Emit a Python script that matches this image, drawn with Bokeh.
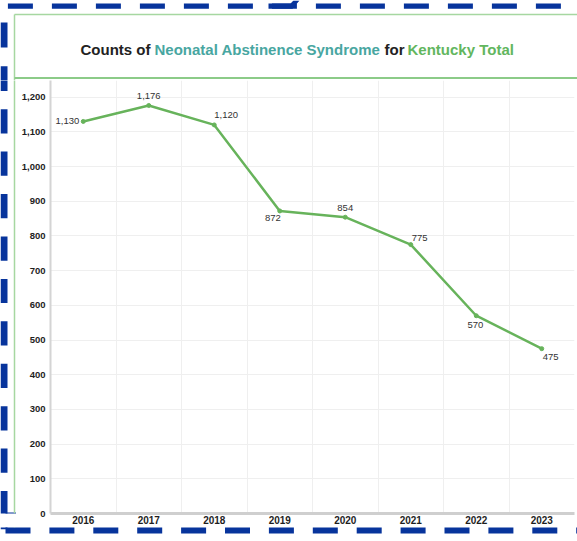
from bokeh.plotting import figure
from bokeh.layouts import column, row
from bokeh.models import Range1d, FixedTicker, NumeralTickFormatter, ColumnDataSource
from bokeh.embed import file_html
from bokeh.resources import INLINE
from bokeh.core.properties import value

# ---- data ----
years = [2016, 2017, 2018, 2019, 2020, 2021, 2022, 2023]
counts = [1130, 1176, 1120, 872, 854, 775, 570, 475]
y_ticks = list(range(0, 1300, 100))
title_parts = ["Counts of", "Neonatal Abstinence Syndrome", "for", "Kentucky Total"]

# ---- styles / placement ----
lab_align = ["right", "center", "left", "right", "center", "left", "right", "left"]
lab_dx = [-4, 0, 0, 1, 0, 1, 7, 1]
lab_dy = [0, -9, -10, 7, -9, -7, 9, 8]
title_colors = ["#222222", "#48a6a1", "#222222", "#62b65e"]
title_x = [80, 154, 384, 407]

FONT = "Liberation Sans"
LINE_GREEN = "#67b35b"
BLUE = "#07349c"
GREEN_BORDER = "#a6d7a1"
GREEN_SEP = "#8ccb88"
W, H = 577, 541
TOP_H = 80          # title band height
BOT_Y = 527         # start of bottom strip
STRIP_W = 16        # left strip width


def decor_fig(w, h, x0, x1, y0, y1):
    f = figure(width=w, height=h, output_backend="svg", toolbar_location=None,
               x_range=Range1d(x0, x1), y_range=Range1d(y1, y0),
               x_axis_type=None, y_axis_type=None, title=None, min_border=0)
    f.grid.visible = False
    f.outline_line_color = None
    f.background_fill_color = "white"
    f.border_fill_color = "white"
    return f


def draw_frame(f):
    # blue dashed screenshot frame
    top = [7.4 + 44 * i for i in range(14)]
    f.quad(left=top, right=[t + 25 for t in top], top=[3] * 14, bottom=[8.3] * 14,
           fill_color=BLUE, line_color=None)
    f.patch([268, 290, 293, 299, 292, 268], [3, 3, 0, 0, 8.3, 8.3],
            fill_color=BLUE, line_color=None)
    left = [22 + 43.8 * i for i in range(12)]
    f.quad(left=[0] * 12, right=[7] * 12, top=left, bottom=[v + 25 for v in left],
           fill_color=BLUE, line_color=None)
    bot = [5 + 43.9 * i for i in range(14)]
    f.quad(left=bot, right=[b + 25 for b in bot], top=[526] * 14, bottom=[533] * 14,
           fill_color=BLUE, line_color=None)
    # green container
    f.segment(x0=[14, 14], y0=[14, 14], x1=[W + 5, 14], y1=[14, 527],
              line_color=GREEN_BORDER, line_width=1.5)
    f.segment(x0=[14], y0=[77.5], x1=[W + 5], y1=[77.5],
              line_color=GREEN_SEP, line_width=2.2)


# ---- title band ----
top_fig = decor_fig(W, TOP_H, 0, W, 0, TOP_H)
draw_frame(top_fig)
top_fig.text(x=title_x, y=[48.5] * 4, text=title_parts, text_color=title_colors,
             text_font=value(FONT), text_font_size="15px", text_font_style="bold",
             text_baseline="middle", text_align="left")

# ---- left strip ----
left_fig = decor_fig(STRIP_W, BOT_Y - TOP_H, 0, STRIP_W, TOP_H, BOT_Y)
draw_frame(left_fig)

# ---- bottom strip ----
bot_fig = decor_fig(W, H - BOT_Y, 0, W, BOT_Y, H)
draw_frame(bot_fig)

# ---- chart ----
p = figure(width=W - STRIP_W, height=BOT_Y - TOP_H, output_backend="svg",
           toolbar_location=None, title=None,
           x_range=Range1d(2015.5, 2023.5), y_range=Range1d(0, 1248),
           min_border_left=34, min_border_right=3, min_border_top=0,
           min_border_bottom=14)
p.background_fill_color = "white"
p.border_fill_color = "white"
p.outline_line_color = None

p.xaxis.ticker = FixedTicker(ticks=years)
p.xaxis.major_label_overrides = {y: str(y) for y in years}
p.yaxis.ticker = FixedTicker(ticks=y_ticks)
p.yaxis.formatter = NumeralTickFormatter(format="0,0")
for ax in (p.xaxis, p.yaxis):
    ax.major_tick_line_color = None
    ax.minor_tick_line_color = None
    ax.major_tick_out = 0
    ax.major_label_text_font = FONT
    ax.major_label_text_font_style = "bold"
    ax.major_label_text_color = "#1e1e1e"
p.xaxis.major_label_text_font_size = "10px"
p.yaxis.major_label_text_font_size = "9.5px"
p.xaxis.major_label_standoff = 2
p.yaxis.major_label_standoff = 5
p.xaxis.axis_line_color = "#cfcfcf"
p.xaxis.axis_line_width = 3
p.yaxis.axis_line_color = "#d4d4d4"
p.yaxis.axis_line_width = 2

p.xgrid.ticker = FixedTicker(ticks=[y + 0.5 for y in years])
p.ygrid.ticker = FixedTicker(ticks=y_ticks)
p.xgrid.grid_line_color = "#efefef"
p.ygrid.grid_line_color = "#efefef"

src = ColumnDataSource(dict(x=years, y=counts,
                            txt=[f"{c:,}" for c in counts],
                            align=lab_align, dx=lab_dx, dy=lab_dy))
p.line("x", "y", source=src, line_color=LINE_GREEN, line_width=2.5)
p.scatter("x", "y", source=src, size=4, fill_color=LINE_GREEN, line_color=LINE_GREEN)
p.text("x", "y", text="txt", source=src, text_align="align", x_offset="dx",
       y_offset="dy", text_baseline="middle", text_font=value(FONT),
       text_font_size="9.5px", text_color="#333333")

layout = column(top_fig, row(left_fig, p), bot_fig)
open("out.html", "w").write(file_html(layout, INLINE))
